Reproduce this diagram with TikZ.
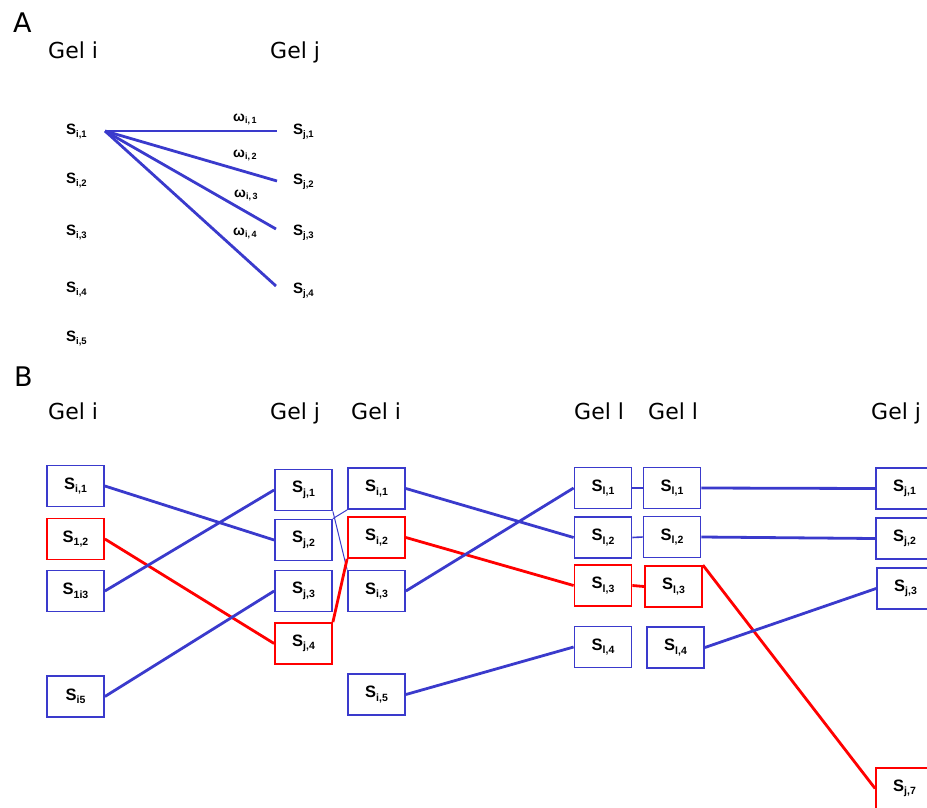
\documentclass[tikz,border=0pt]{standalone}
\usepackage{fontspec}
\setmainfont{Liberation Sans}
\newfontfamily\headfont{DejaVu Sans}
\definecolor{gblue}{RGB}{58,58,204}
\definecolor{gred}{RGB}{255,0,0}
% spot labels: bold S with a lowered bold index
\newcommand{\spotA}[1]{{\bfseries\fontsize{15}{15}\selectfont S\raisebox{-3pt}{\fontsize{9.5}{9.5}\selectfont #1}}}
\newcommand{\spotB}[1]{{\bfseries\fontsize{16.5}{16.5}\selectfont S\raisebox{-3.5pt}{\fontsize{10.5}{10.5}\selectfont #1}}}
\newcommand{\wlabel}[1]{{\bfseries\fontsize{14}{14}\selectfont ω\raisebox{-2.5pt}{\fontsize{9}{9}\selectfont #1}}}
\begin{document}
\begin{tikzpicture}[x=1pt,y=-1pt,
  head/.style={font=\headfont\fontsize{22}{22}\selectfont, anchor=base west, inner sep=0},
  panel/.style={font=\headfont\fontsize{27}{27}\selectfont, anchor=base west, inner sep=0},
  spot/.style={anchor=base west, inner sep=0},
  gbox/.style={draw, line width=1.8pt, minimum width=57pt, minimum height=41pt, inner sep=0, fill=white},
  bbox/.style={gbox, draw=gblue},
  rbox/.style={gbox, draw=gred},
  link/.style={line width=2.8pt, gblue},
  rlink/.style={line width=2.8pt, gred},
  slink/.style={line width=1.6pt, gblue},
  hair/.style={line width=1pt, gblue}]
\useasboundingbox (0,0) rectangle (927,807);
\clip (0,0) rectangle (927,807);

% ---------------- panel A ----------------
\node[panel] (pa) at (13,32) {A};
\node[head] (ahi) at (48,58) {Gel i};
\node[head] (ahj) at (270,58) {Gel j};

\node[spot] (ai1) at (66,134) {\spotA{i,1}};
\node[spot] (ai2) at (66,183) {\spotA{i,2}};
\node[spot] (ai3) at (66,235) {\spotA{i,3}};
\node[spot] (ai4) at (66,292) {\spotA{i,4}};
\node[spot] (ai5) at (66,341) {\spotA{i,5}};

\node[spot] (aj1) at (293,134) {\spotA{j,1}};
\node[spot] (aj2) at (293,184) {\spotA{j,2}};
\node[spot] (aj3) at (293,235) {\spotA{j,3}};
\node[spot] (aj4) at (293,293) {\spotA{j,4}};

\node[spot] (w1) at (233,121) {\wlabel{i,\,1}};
\node[spot] (w2) at (233,157) {\wlabel{i,\,2}};
\node[spot] (w3) at (234,197) {\wlabel{i,\,3}};
\node[spot] (w4) at (233,235) {\wlabel{i,\,4}};

\coordinate (src) at (105,131);
\coordinate (e1) at (277,131);
\coordinate (e2) at (277,181);
\coordinate (e3) at (276,229);
\coordinate (e4) at (276,286);
\draw[link] (src) -- (e1);
\draw[link] (src) -- (e2);
\draw[link] (src) -- (e3);
\draw[link] (src) -- (e4);

% ---------------- panel B ----------------
\node[panel] (pb) at (14,386) {B};
\node[head] (h1) at (48,419) {Gel i};
\node[head] (h2) at (270,419) {Gel j};
\node[head] (h3) at (351,419) {Gel i};
\node[head] (h4) at (574,419) {Gel l};
\node[head] (h5) at (648,419) {Gel l};
\node[head] (h6) at (871,419) {Gel j};

% column 1
\node[bbox] (c1a) at (75.5,486) {\spotB{i,1}};
\node[rbox] (c1b) at (75.5,539) {\spotB{1,2}};
\node[bbox] (c1c) at (75.5,591) {\spotB{1i3}};
\node[bbox] (c1d) at (75.5,696.5) {\spotB{i5}};
% column 2
\node[bbox] (c2a) at (303.5,490) {\spotB{j,1}};
\node[bbox] (c2b) at (303.5,540) {\spotB{j,2}};
\node[bbox] (c2c) at (303.5,591) {\spotB{j,3}};
\node[rbox] (c2d) at (303.5,643.5) {\spotB{j,4}};
% column 3
\node[bbox] (c3a) at (376.5,488.5) {\spotB{i,1}};
\node[rbox] (c3b) at (376.5,537.5) {\spotB{i,2}};
\node[bbox] (c3c) at (376.5,591) {\spotB{i,3}};
\node[bbox] (c3d) at (376.5,694.5) {\spotB{i,5}};
% column 4
\node[bbox] (c4a) at (603,488) {\spotB{l,1}};
\node[bbox] (c4b) at (603,537.5) {\spotB{l,2}};
\node[rbox] (c4c) at (603,585.5) {\spotB{l,3}};
\node[bbox] (c4d) at (603,647) {\spotB{l,4}};
% column 5
\node[bbox] (c5a) at (672,488) {\spotB{l,1}};
\node[bbox] (c5b) at (672,537) {\spotB{l,2}};
\node[rbox] (c5c) at (673.5,586.5) {\spotB{l,3}};
\node[bbox] (c5d) at (675.5,647.5) {\spotB{l,4}};
% column 6
\node[bbox] (c6a) at (904.5,488.5) {\spotB{j,1}};
\node[bbox] (c6b) at (904.5,538.5) {\spotB{j,2}};
\node[bbox] (c6c) at (905.5,588.5) {\spotB{j,3}};
\node[rbox] (c6d) at (904.5,788.5) {\spotB{j,7}};

% column 1 -> column 2
\draw[link] (c1a.east) -- (c2b.west);
\draw[rlink] (c1b.east) -- (c2d.west);
\draw[link] (c1c.east) -- (c2a.west);
\draw[link] (c1d.east) -- (c2c.west);
% column 2 -> column 3
\draw[hair] (c2a.south east) -- (c3c.north west);
\draw[hair] (c2b.north east) -- (c3a.south west);
\draw[rlink] (c2d.north east) -- (c3b.south west);
% column 3 -> column 4
\draw[link] (c3a.east) -- (c4b.west);
\draw[rlink] (c3b.east) -- (c4c.west);
\draw[link] (c3c.east) -- (c4a.west);
\draw[link] (c3d.east) -- (c4d.west);
% column 4 -> column 5
\draw[slink] (c4a.east) -- (c5a.west);
\draw[slink] (c4b.east) -- (c5b.west);
\draw[rlink] (c4c.east) -- (c5c.west);
% column 5 -> column 6
\draw[link] (c5a.east) -- (c6a.west);
\draw[link] (c5b.east) -- (c6b.west);
\draw[rlink] (c5c.north east) -- (c6d.west);
\draw[link] (c5d.east) -- (c6c.west);
\end{tikzpicture}
\end{document}
